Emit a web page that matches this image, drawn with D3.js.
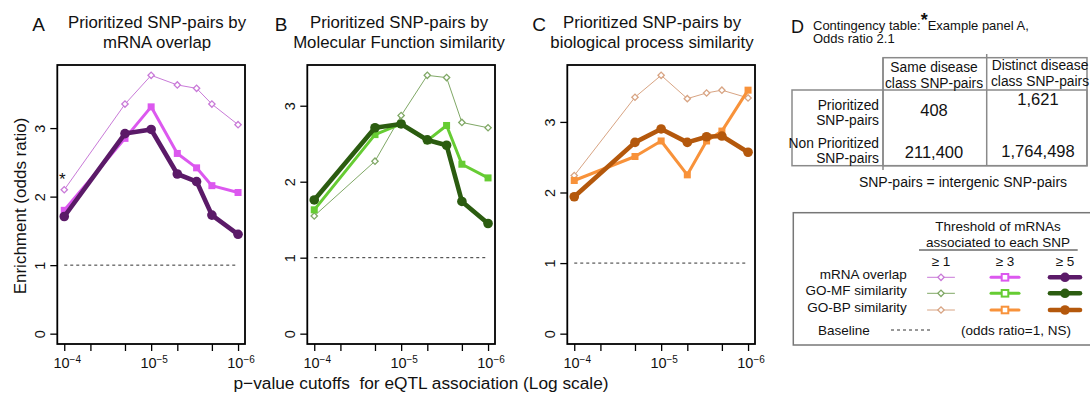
<!DOCTYPE html>
<html>
<head>
<meta charset="utf-8">
<script src="https://cdn.jsdelivr.net/npm/d3@7"></script>
<style>
  body { margin: 0; background: #fff; }
  text { font-family: "Liberation Sans", Arial, sans-serif; fill: #111; }
</style>
</head>
<body>
<script>
// p-value cutoffs (x) and tick positions
var pvalues = [1e-4, 2e-5, 1e-5, 5e-6, 3e-6, 2e-6, 1e-6];
var xTicks = [1e-4, 5e-5, 2e-5, 1e-5, 5e-6, 2e-6, 1e-6];
var xTickLabels = [[1e-4, "−4"], [1e-5, "−5"], [1e-6, "−6"]];
var yTicks = [0, 1, 2, 3];

// Odds ratios, threshold >=1, >=3, >=5 mRNAs per SNP
var mrnaGe1 = [2.10, 3.35, 3.77, 3.63, 3.58, 3.35, 3.05];
var mrnaGe3 = [1.80, 2.85, 3.31, 2.63, 2.42, 2.16, 2.06];
var mrnaGe5 = [1.71, 2.92, 2.98, 2.33, 2.22, 1.73, 1.45];

var mfGe1 = [1.55, 2.27, 2.87, 3.40, 3.37, 2.78, 2.71];
var mfGe3 = [1.63, 2.62, 2.76, 2.54, 2.74, 2.23, 2.05];
var mfGe5 = [1.76, 2.71, 2.76, 2.55, 2.48, 1.74, 1.45];

var bpGe1 = [2.24, 3.35, 3.66, 3.33, 3.41, 3.45, 3.34];
var bpGe3 = [2.17, 2.51, 2.73, 2.25, 2.73, 2.87, 3.45];
var bpGe5 = [1.94, 2.71, 2.90, 2.71, 2.79, 2.80, 2.57];

var thresholds = ["≥ 1", "≥ 3", "≥ 5"];
var legendRows = ["mRNA overlap", "GO-MF similarity", "GO-BP similarity"];

// Contingency table (panel D)
var tableCols = [["Same disease", "class SNP-pairs"], ["Distinct disease", "class SNP-pairs"]];
var tableRows = [["Prioritized", "SNP-pairs"], ["Non Prioritized", "SNP-pairs"]];
var tableValues = [["408", "1,621"], ["211,400", "1,764,498"]];

var palettes = [
  ["#c97ad8", "#dc58ef", "#5b1a68"],
  ["#80a866", "#66cc33", "#2b5c10"],
  ["#d8a483", "#f8923a", "#b4580c"]
];

var panels = [
  { letter: "A", title: ["Prioritized SNP-pairs by", "mRNA overlap"], series: [mrnaGe1, mrnaGe3, mrnaGe5], left: 57.3, titleX: 157, letterX: 38.5 },
  { letter: "B", title: ["Prioritized SNP-pairs by", "Molecular Function similarity"], series: [mfGe1, mfGe3, mfGe5], left: 307.3, titleX: 399, letterX: 281 },
  { letter: "C", title: ["Prioritized SNP-pairs by", "biological process similarity"], series: [bpGe1, bpGe3, bpGe5], left: 567.3, titleX: 652, letterX: 539 }
];

var W = 1090, H = 400;
var boxW = 187.7, plotTop = 65, plotBottom = 344;
var lineWidths = [1, 3, 4.6];

var svg = d3.select("body").append("svg")
  .attr("width", W).attr("height", H);

// draw one marker
function marker(g, kind, color, cx, cy) {
  if (kind === 0) {
    g.append("path")
      .attr("d", d3.symbol(d3.symbolSquare, 20)())
      .attr("transform", "translate(" + cx + "," + cy + ") rotate(45)")
      .attr("fill", "#fff").attr("stroke", color).attr("stroke-width", 1.3);
  } else if (kind === 1) {
    g.append("rect")
      .attr("x", cx - 3.5).attr("y", cy - 3.5)
      .attr("width", 7).attr("height", 7)
      .attr("fill", color);
  } else {
    g.append("circle")
      .attr("cx", cx).attr("cy", cy).attr("r", 4.8)
      .attr("fill", color);
  }
}

panels.forEach(function (p, pi) {
  var g = svg.append("g");
  var maxV = d3.max(p.series, function (s) { return d3.max(s); });

  // R-style 4% padding on both scales
  var x = d3.scaleLog()
    .domain([Math.pow(10, -3.92), Math.pow(10, -6.08)])
    .range([p.left, p.left + boxW]);
  var y = d3.scaleLinear()
    .domain([-0.04 * maxV, 1.04 * maxV])
    .range([plotBottom, plotTop]);

  // title
  g.append("text").attr("x", p.letterX).attr("y", 31)
    .attr("text-anchor", "middle").style("font-size", "19px").text(p.letter);
  p.title.forEach(function (t, i) {
    g.append("text").attr("x", p.titleX).attr("y", 28 + i * 20)
      .attr("text-anchor", "middle").style("font-size", "16.8px").text(t);
  });

  // baseline
  g.append("line")
    .attr("x1", x(1e-4)).attr("x2", x(1e-6))
    .attr("y1", y(1)).attr("y2", y(1))
    .attr("stroke", "#333").attr("stroke-width", 1)
    .attr("stroke-dasharray", "3,3");

  // series lines + markers
  var line = d3.line()
    .x(function (d, i) { return x(pvalues[i]); })
    .y(function (d) { return y(d); });

  p.series.forEach(function (s, si) {
    var col = palettes[pi][si];
    g.append("path").attr("d", line(s))
      .attr("fill", "none").attr("stroke", col)
      .attr("stroke-width", lineWidths[si]).attr("stroke-linejoin", "round");
    s.forEach(function (v, i) { marker(g, si, col, x(pvalues[i]), y(v)); });
  });

  if (pi === 0) {
    g.append("text").attr("x", x(pvalues[0]) - 2).attr("y", y(mrnaGe1[0]) - 5)
      .attr("text-anchor", "middle").style("font-size", "17px").text("*");
  }

  // box
  g.append("rect")
    .attr("x", p.left).attr("y", plotTop)
    .attr("width", boxW).attr("height", plotBottom - plotTop)
    .attr("fill", "none").attr("stroke", "#000").attr("stroke-width", 1.8);

  // y axis
  var ya = g.append("g").attr("transform", "translate(" + p.left + ",0)")
    .call(d3.axisLeft(y).tickValues(yTicks).tickSize(7).tickFormat(d3.format("d")));
  ya.select(".domain").remove();
  ya.selectAll(".tick line").attr("stroke-width", 1.3);
  ya.selectAll(".tick text")
    .attr("x", null).attr("dy", null).attr("y", null)
    .attr("text-anchor", "middle")
    .attr("transform", "translate(-12,0) rotate(-90)")
    .style("font-size", "14.5px").style("font-family", "Liberation Sans, Arial, sans-serif").attr("fill", "#111");

  // x axis
  var xa = g.append("g").attr("transform", "translate(0," + plotBottom + ")")
    .call(d3.axisBottom(x).tickValues(xTicks).tickSize(7).tickFormat(""));
  xa.select(".domain").remove();
  xa.selectAll(".tick line").attr("stroke-width", 1.3);
  xTickLabels.forEach(function (t) {
    var tx = g.append("text")
      .attr("x", x(t[0]) + 3).attr("y", 368)
      .attr("text-anchor", "middle").style("font-size", "14.5px");
    tx.append("tspan").text("10");
    tx.append("tspan").attr("dy", -5).style("font-size", "10px").text(t[1]);
  });
});

// axis titles
svg.append("text")
  .attr("transform", "translate(26,206) rotate(-90)")
  .attr("text-anchor", "middle").style("font-size", "17px")
  .text("Enrichment (odds ratio)");
svg.append("text")
  .attr("x", 421).attr("y", 389)
  .attr("text-anchor", "middle").style("font-size", "17.3px")
  .style("white-space", "pre")
  .text("p−value cutoffs  for eQTL association (Log scale)");

// Panel D: contingency table
var d = svg.append("g");
d.append("text").attr("x", 797.5).attr("y", 33).attr("text-anchor", "middle")
  .style("font-size", "18px").text("D");
var dt = d.append("text").attr("x", 813).attr("y", 29.5).style("font-size", "13px");
dt.append("tspan").text("Contingency table:");
dt.append("tspan").attr("dy", -4).style("font-size", "18px").style("font-weight", "bold").text("*");
dt.append("tspan").attr("dy", 4).text("Example panel A,");
d.append("text").attr("x", 813).attr("y", 43).style("font-size", "13px").text("Odds ratio 2.1");

var gridCol = "#8a8a8a";
d.append("rect").attr("x", 883).attr("y", 57.7).attr("width", 204).attr("height", 108)
  .attr("fill", "none").attr("stroke", gridCol).attr("stroke-width", 1.5);
d.append("rect").attr("x", 792).attr("y", 90).attr("width", 295).attr("height", 75.7)
  .attr("fill", "none").attr("stroke", gridCol).attr("stroke-width", 1.5);
d.append("line").attr("x1", 883).attr("x2", 883).attr("y1", 57.7).attr("y2", 170)
  .attr("stroke", gridCol).attr("stroke-width", 1.5);
d.append("line").attr("x1", 986.7).attr("x2", 986.7).attr("y1", 54).attr("y2", 165.7)
  .attr("stroke", gridCol).attr("stroke-width", 1.5);

var colX = [934, 1040];
tableCols.forEach(function (c, ci) {
  c.forEach(function (t, li) {
    d.append("text").attr("x", colX[ci]).attr("y", 71.5 - ci * 1.3 + li * 16)
      .attr("text-anchor", "middle").style("font-size", "13.8px").text(t);
  });
});
var rowY = [110, 148];
tableRows.forEach(function (r, ri) {
  r.forEach(function (t, li) {
    d.append("text").attr("x", 879).attr("y", rowY[ri] + li * 15.3)
      .attr("text-anchor", "end").style("font-size", "13.8px").text(t);
  });
});
var valY = [[115.5, 104.5], [157.5, 156.8]];
tableValues.forEach(function (r, ri) {
  r.forEach(function (v, ci) {
    d.append("text").attr("x", colX[ci] - (ci ? 2 : 0)).attr("y", valY[ri][ci])
      .attr("text-anchor", "middle").style("font-size", "16.5px").text(v);
  });
});
d.append("text").attr("x", 963).attr("y", 187).attr("text-anchor", "middle")
  .style("font-size", "14px").text("SNP-pairs = intergenic SNP-pairs");

// Legend
var lg = svg.append("g");
lg.append("rect").attr("x", 793.3).attr("y", 212.7).attr("width", 300).attr("height", 132.3)
  .attr("fill", "none").attr("stroke", "#777").attr("stroke-width", 1.5);
["Threshold of mRNAs", "associated to each SNP"].forEach(function (t, i) {
  lg.append("text").attr("x", 998).attr("y", 231 + i * 15.5)
    .attr("text-anchor", "middle").style("font-size", "13.5px").text(t);
});
lg.append("line").attr("x1", 919).attr("x2", 1077.7).attr("y1", 250).attr("y2", 250)
  .attr("stroke", "#222").attr("stroke-width", 1);
var legX = [941, 1005, 1065];
var legHalf = [13.5, 14, 15];
thresholds.forEach(function (t, i) {
  lg.append("text").attr("x", legX[i]).attr("y", 265.5)
    .attr("text-anchor", "middle").style("font-size", "13.5px").text(t);
});
var legY = [277.3, 293.3, 310];
legendRows.forEach(function (r, ri) {
  lg.append("text").attr("x", 906.7).attr("y", legY[ri] + 2)
    .attr("text-anchor", "end").style("font-size", "13.5px").text(r);
  thresholds.forEach(function (t, si) {
    var col = palettes[ri][si];
    lg.append("line")
      .attr("x1", legX[si] - legHalf[si]).attr("x2", legX[si] + legHalf[si])
      .attr("y1", legY[ri]).attr("y2", legY[ri])
      .attr("stroke", col).attr("stroke-width", lineWidths[si]).attr("stroke-linecap", "round");
    if (si === 1) {
      lg.append("rect").attr("x", legX[si] - 3.3).attr("y", legY[ri] - 3.3)
        .attr("width", 6.6).attr("height", 6.6)
        .attr("fill", "#fff").attr("stroke", col).attr("stroke-width", 2);
    } else {
      marker(lg, si, col, legX[si], legY[ri]);
    }
  });
});
lg.append("text").attr("x", 844).attr("y", 334.7).attr("text-anchor", "middle")
  .style("font-size", "13.5px").text("Baseline");
lg.append("line").attr("x1", 891).attr("x2", 931.7).attr("y1", 330).attr("y2", 330)
  .attr("stroke", "#333").attr("stroke-width", 1).attr("stroke-dasharray", "3,3");
lg.append("text").attr("x", 1016).attr("y", 334.7).attr("text-anchor", "middle")
  .style("font-size", "13.5px").text("(odds ratio=1, NS)");
</script>
</body>
</html>
